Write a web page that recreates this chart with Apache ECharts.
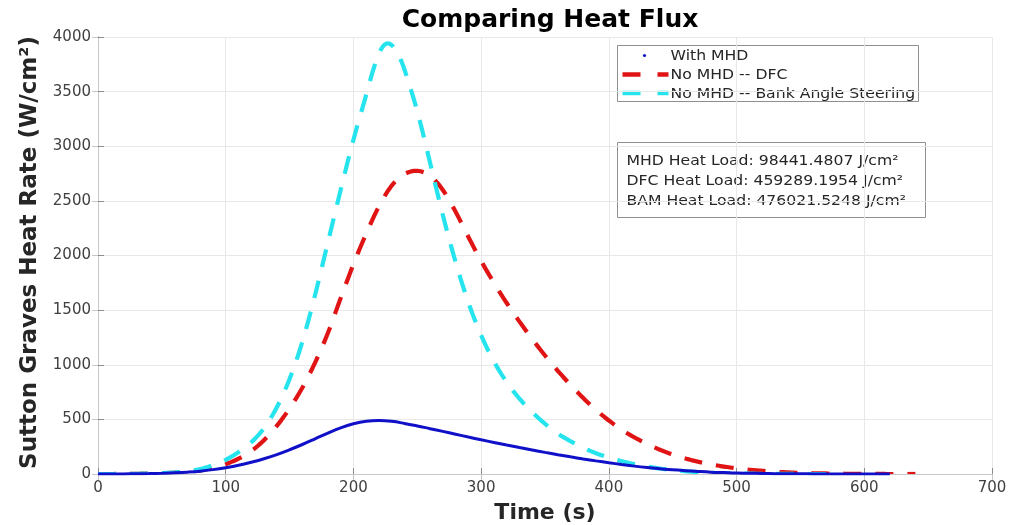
<!DOCTYPE html>
<html>
<head>
<meta charset="utf-8">
<script src="https://cdn.jsdelivr.net/npm/echarts@6/dist/echarts.min.js"></script>
<style>
html, body { margin: 0; padding: 0; background: #fff; }
#chart { width: 1017px; height: 525px; }
</style>
</head>
<body>
<div id="chart"></div>
<script>
// Heat rate histories (time in s, rate in W/cm^2)
const timeMHD = [0,10,20,30,40,50,60,70,80,90,100,110,120,130,140,150,160,170,180,190,
  200,210,220,230,240,250,260,270,280,290,300,310,320,330,340,350,360,370,380,390,
  400,410,420,430,440,450,460,470,480,490,500,510,520,530,540,550,560,570,580,590,600,610,620];
const rateMHD = [0,0,1,2,4,7,11,17,26,40,58,80,108,140,178,222,270,322,375,423,
  460,483,490,482,463,440,415,390,364,338,313,289,265,242,220,198,177,157,138,120,
  103,87,72,59,48,38,30,23,17,13,9,7,5,3,2,2,1,1,1,0,0,0,0];

const timeDFC = [0,10,20,30,40,50,60,70,80,90,100,110,120,130,140,150,160,170,180,190,
  200,210,220,230,240,250,260,270,280,290,300,310,320,330,340,350,360,370,380,390,
  400,410,420,430,440,450,460,470,480,490,500,510,520,530,540,550,560,570,580,590,600,610,620,630,640];
const rateDFC = [0,0,1,2,4,7,12,20,33,56,90,140,210,310,440,600,790,1020,1290,1610,
  1920,2200,2450,2640,2745,2775,2730,2600,2400,2170,1950,1750,1565,1395,1235,1085,945,815,695,585,
  490,405,335,275,222,178,142,112,88,68,52,39,29,21,15,10,7,5,3,2,1,1,0,0,0];

const timeBAM = [0,10,20,30,40,50,60,70,80,90,100,110,120,130,140,150,160,170,180,190,
  200,210,215,220,225,230,235,240,250,260,270,280,290,300,310,320,330,340,350,360,370,380,390,
  400,410,420,430,440,450,460,470,480,490,500,510,520,530,540,550,560,570];
const rateBAM = [0,0,1,2,4,8,14,26,45,80,130,200,290,420,610,870,1210,1640,2120,2600,
  3060,3470,3680,3850,3935,3925,3840,3700,3320,2850,2370,1940,1570,1270,1030,840,690,565,460,370,300,240,190,
  150,117,90,68,50,36,25,17,11,7,5,3,2,1,1,0,0,0];

const xTicks = [0, 700, 100];   // min, max, interval
const yTicks = [0, 4000, 500];

const heatLoads = [
  ['MHD', '98441.4807'],
  ['DFC', '459289.1954'],
  ['BAM', '476021.5248']
];
const seriesNames = ['With MHD', 'No MHD -- DFC', 'No MHD -- Bank Angle Steering'];

const pairs = (t, v) => t.map((x, i) => [x, v[i]]);

const FONT = 'DejaVu Sans';
const BLUE = '#1010c8', RED = '#e01414', CYAN = '#26e4ee';
const BOX_FONT = '14.5px "DejaVu Sans"';
const STRETCH = 1.08;
const DASH_ON = 18, DASH_OFF = 14, DASH_WIDTH = 4.2;

const chart = echarts.init(document.getElementById('chart'), null, { renderer: 'canvas' });

const sideAxis = {
  axisLine: { show: true, lineStyle: { color: '#c8c8c8', width: 1 } },
  axisTick: { show: true, inside: true, length: 6, lineStyle: { color: '#c8c8c8' } },
  axisLabel: { show: false },
  splitLine: { show: false }
};

const legendText = (txt, y) => ({
  type: 'text', x: 53, y: y, scaleX: STRETCH,
  style: { text: txt, font: BOX_FONT, fill: '#262626', verticalAlign: 'middle' }
});

// Catmull-Rom smoothing of pixel points (rendering only)
function smoothPixels(p, steps) {
  const out = [p[0]];
  for (let i = 0; i < p.length - 1; i++) {
    const p0 = p[Math.max(i - 1, 0)], p1 = p[i], p2 = p[i + 1], p3 = p[Math.min(i + 2, p.length - 1)];
    for (let s = 1; s <= steps; s++) {
      const t = s / steps, t2 = t * t, t3 = t2 * t;
      const f = (a, b, c, d) => 0.5 * ((2 * b) + (-a + c) * t + (2 * a - 5 * b + 4 * c - d) * t2 + (-a + 3 * b - 3 * c + d) * t3);
      out.push([f(p0[0], p1[0], p2[0], p3[0]), f(p0[1], p1[1], p2[1], p3[1])]);
    }
  }
  return out;
}

// Cut a pixel path into dash pieces of fixed length along the curve
function dashPieces(p, on, off) {
  const out = [];
  let draw = true, left = on, cur = [p[0].slice()];
  for (let i = 1; i < p.length; i++) {
    let ax = p[i - 1][0], ay = p[i - 1][1];
    const bx = p[i][0], by = p[i][1];
    let segLen = Math.hypot(bx - ax, by - ay);
    while (segLen > 1e-9) {
      if (segLen <= left) {
        left -= segLen;
        if (draw) cur.push([bx, by]);
        segLen = 0;
      } else {
        const f = left / segLen;
        const mx = ax + (bx - ax) * f, my = ay + (by - ay) * f;
        if (draw) { cur.push([mx, my]); out.push(cur); cur = null; }
        else { cur = [[mx, my]]; }
        draw = !draw;
        left = draw ? on : off;
        segLen -= Math.hypot(mx - ax, my - ay);
        ax = mx; ay = my;
      }
    }
  }
  if (draw && cur && cur.length > 1) out.push(cur);
  return out;
}

// Dashed curve series: points come from the data through the chart's axes
function dashedCurve(name, times, rates, color) {
  return {
    name: name,
    type: 'custom',
    coordinateSystem: 'cartesian2d',
    clip: true,
    data: pairs(times, rates),
    encode: { x: 0, y: 1 },
    renderItem: function (params, api) {
      if (params.dataIndex !== 0) return null;
      const px = times.map((t, i) => api.coord([t, rates[i]]));
      const pieces = dashPieces(smoothPixels(px, 8), DASH_ON, DASH_OFF);
      return {
        type: 'group',
        silent: true,
        children: pieces.map(pc => ({
          type: 'polyline',
          shape: { points: pc },
          style: { stroke: color, lineWidth: DASH_WIDTH, fill: null, lineCap: 'butt', lineJoin: 'round' }
        }))
      };
    }
  };
}

chart.setOption({
  animation: false,
  backgroundColor: '#ffffff',
  title: {
    text: 'Comparing Heat Flux',
    left: 545,
    textAlign: 'center',
    top: 3,
    textStyle: { fontFamily: FONT, fontWeight: 'bold', fontSize: 25, color: '#000' }
  },
  grid: { left: 98, top: 37, right: 25, bottom: 51, containLabel: false, outerBoundsMode: 'none' },
  xAxis: [{
    type: 'value',
    min: xTicks[0], max: xTicks[1], interval: xTicks[2],
    name: 'Time (s)',
    nameLocation: 'middle',
    nameGap: 28,
    nameTextStyle: { fontFamily: FONT, fontWeight: 'bold', fontSize: 22, color: '#262626' },
    axisLine: { show: true, lineStyle: { color: '#8c8c8c', width: 1 } },
    axisTick: { show: true, inside: true, length: 6, lineStyle: { color: '#8c8c8c' } },
    axisLabel: { fontFamily: FONT, fontSize: 15, color: '#404040', margin: 7 },
    splitLine: { show: true, lineStyle: { color: '#e8e8e8', width: 1 } }
  }, Object.assign({
    type: 'value', position: 'top',
    min: xTicks[0], max: xTicks[1], interval: xTicks[2]
  }, sideAxis)],
  yAxis: [{
    type: 'value',
    min: yTicks[0], max: yTicks[1], interval: yTicks[2],
    name: 'Sutton Graves Heat Rate (W/cm²)',
    nameLocation: 'middle',
    nameGap: 54,
    nameRotate: 90,
    nameTextStyle: { fontFamily: FONT, fontWeight: 'bold', fontSize: 23, color: '#262626', padding: [0, 0, 0, 6] },
    axisLine: { show: true, lineStyle: { color: '#8c8c8c', width: 1 } },
    axisTick: { show: true, inside: true, length: 6, lineStyle: { color: '#8c8c8c' } },
    axisLabel: { fontFamily: FONT, fontSize: 15, color: '#404040', margin: 7, formatter: v => String(v) },
    splitLine: { show: true, lineStyle: { color: '#e8e8e8', width: 1 } }
  }, Object.assign({
    type: 'value', position: 'right',
    min: yTicks[0], max: yTicks[1], interval: yTicks[2]
  }, sideAxis)],
  series: [
    {
      name: seriesNames[0], type: 'line', data: pairs(timeMHD, rateMHD),
      showSymbol: false, smooth: 0.4,
      lineStyle: { color: BLUE, width: 3 }
    },
    dashedCurve(seriesNames[1], timeDFC, rateDFC, RED),
    dashedCurve(seriesNames[2], timeBAM, rateBAM, CYAN)
  ],
  graphic: [
    // legend box
    {
      type: 'group', left: 617, top: 45, z: 100,
      children: [
        { type: 'rect', shape: { x: 0, y: 0, width: 301, height: 56 },
          style: { fill: '#fff', stroke: '#8f8f8f', lineWidth: 1 } },
        { type: 'circle', shape: { cx: 27, cy: 10, r: 1.6 }, style: { fill: BLUE } },
        { type: 'line', shape: { x1: 5, y1: 29, x2: 23, y2: 29 }, style: { stroke: RED, lineWidth: 4.5 } },
        { type: 'line', shape: { x1: 40, y1: 29, x2: 51, y2: 29 }, style: { stroke: RED, lineWidth: 4.5 } },
        { type: 'line', shape: { x1: 5, y1: 47.5, x2: 23, y2: 47.5 }, style: { stroke: CYAN, lineWidth: 4.5 } },
        { type: 'line', shape: { x1: 40, y1: 47.5, x2: 51, y2: 47.5 }, style: { stroke: CYAN, lineWidth: 4.5 } },
        legendText(seriesNames[0], 10.5),
        legendText(seriesNames[1], 30),
        legendText(seriesNames[2], 48.5)
      ]
    },
    // heat load summary box
    {
      type: 'group', left: 617, top: 142, z: 100,
      children: [
        { type: 'rect', shape: { x: 0, y: 0, width: 308, height: 75 },
          style: { fill: '#fff', stroke: '#8f8f8f', lineWidth: 1 } }
      ].concat(heatLoads.map((h, i) => ({
        type: 'text', x: 9, y: 19 + i * 20, scaleX: STRETCH,
        style: {
          text: h[0] + ' Heat Load: ' + h[1] + ' J/cm²',
          font: BOX_FONT, fill: '#262626', verticalAlign: 'middle'
        }
      })))
    }
  ]
});
</script>
</body>
</html>
